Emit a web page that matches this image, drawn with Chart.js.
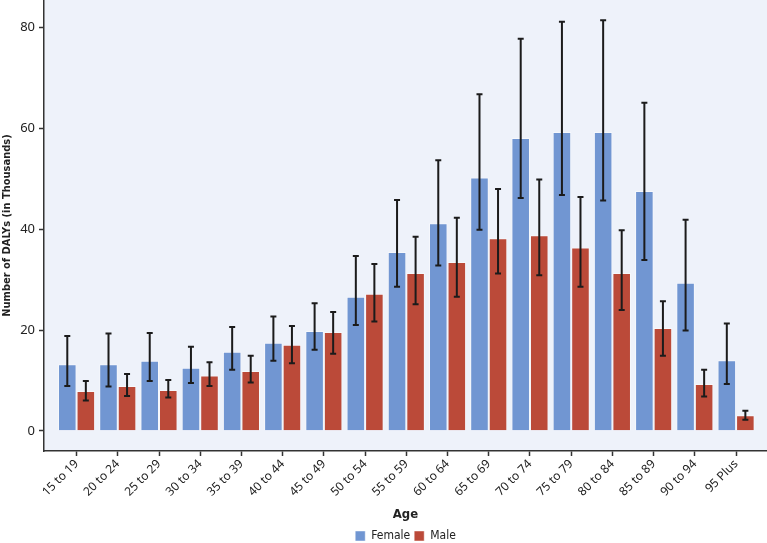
<!DOCTYPE html>
<html>
<head>
<meta charset="utf-8">
<script src="https://cdn.jsdelivr.net/npm/chart.js@4.4.0/dist/chart.umd.min.js"></script>
<style>
    html, body { margin: 0; padding: 0; background: #ffffff; }
    #wrap { width: 767px; height: 543px; }
</style>
</head>
<body>
<div id="wrap"><canvas id="dalysChart"></canvas></div>
<script>
// Age groups and DALYs (thousands), with lower / upper uncertainty bounds
var ageGroups = ['15 to 19', '20 to 24', '25 to 29', '30 to 34', '35 to 39', '40 to 44', '45 to 49', '50 to 54',
    '55 to 59', '60 to 64', '65 to 69', '70 to 74', '75 to 79', '80 to 84', '85 to 89', '90 to 94', '95 Plus'];

var femaleDalys = [13.2, 13.2, 13.9, 12.5, 15.7, 17.5, 19.8, 26.6, 35.5, 41.2, 50.3, 58.1, 59.3, 59.3, 47.6, 29.4, 14.0];
var femaleLower = [8.9, 8.8, 9.9, 9.5, 12.1, 13.9, 16.1, 21.0, 28.6, 32.8, 39.9, 46.2, 46.8, 45.7, 33.9, 19.9, 9.3];
var femaleUpper = [18.8, 19.3, 19.4, 16.7, 20.6, 22.7, 25.3, 34.7, 45.8, 53.7, 66.8, 77.8, 81.2, 81.5, 65.1, 41.9, 21.3];

var maleDalys = [7.9, 8.9, 8.1, 11.0, 11.9, 17.1, 19.6, 27.2, 31.3, 33.5, 38.2, 38.8, 36.4, 31.3, 20.4, 9.3, 3.1];
var maleLower = [6.0, 6.9, 6.6, 8.9, 9.6, 13.4, 15.3, 21.7, 25.1, 26.6, 31.2, 30.9, 28.6, 24.0, 14.9, 6.8, 2.2];
var maleUpper = [9.9, 11.3, 10.1, 13.6, 14.9, 20.8, 23.6, 33.1, 38.5, 42.3, 48.0, 49.9, 46.4, 39.8, 25.7, 12.1, 4.0];

var yTicks = [0, 20, 40, 60, 80];

var condensed = "'Liberation Sans Narrow', 'DejaVu Sans Condensed', 'Roboto', sans-serif";
var plain = "'Noto Sans', 'Open Sans', sans-serif";

function toPoints(values) {
    return values.map(function (v, i) { return { x: i, y: v }; });
}

// light blue plot panel behind the bars
var plotBackground = {
    id: 'plotBackground',
    beforeDraw: function (chart) {
        var a = chart.chartArea;
        var ctx = chart.ctx;
        ctx.save();
        ctx.fillStyle = '#eef2fa';
        ctx.fillRect(a.left, a.top, a.right - a.left, a.bottom - a.top);
        ctx.restore();
    }
};

// whiskers from the dataset's errLow / errHigh arrays
var errorBars = {
    id: 'errorBars',
    afterDatasetsDraw: function (chart) {
        var ctx = chart.ctx;
        var yScale = chart.scales.y;
        ctx.save();
        ctx.strokeStyle = '#1b1b1b';
        ctx.lineWidth = 2;
        chart.data.datasets.forEach(function (ds, d) {
            var meta = chart.getDatasetMeta(d);
            meta.data.forEach(function (bar, i) {
                var x = bar.x;
                var yLo = yScale.getPixelForValue(ds.errLow[i]);
                var yHi = yScale.getPixelForValue(ds.errHigh[i]);
                ctx.beginPath();
                ctx.moveTo(x, yLo);
                ctx.lineTo(x, yHi);
                ctx.moveTo(x - 3, yLo);
                ctx.lineTo(x + 3, yLo);
                ctx.moveTo(x - 3, yHi);
                ctx.lineTo(x + 3, yHi);
                ctx.stroke();
            });
        });
        ctx.restore();
    }
};

var ctx = document.getElementById('dalysChart').getContext('2d');
var dalysChart = new Chart(ctx, {
    type: 'bar',
    data: {
        datasets: [{
            label: 'Female',
            data: toPoints(femaleDalys),
            errLow: femaleLower,
            errHigh: femaleUpper,
            backgroundColor: '#7196d2',
            borderColor: 'rgba(255, 255, 255, 0.45)',
            borderWidth: 1
        }, {
            label: 'Male',
            data: toPoints(maleDalys),
            errLow: maleLower,
            errHigh: maleUpper,
            backgroundColor: '#bb4a39',
            borderColor: 'rgba(255, 255, 255, 0.45)',
            borderWidth: 1
        }]
    },
    options: {
        responsive: true,
        maintainAspectRatio: false,
        animation: false,
        layout: { padding: { top: 0, right: 0, left: 0, bottom: -9 } },
        datasets: {
            bar: { categoryPercentage: 0.9, barPercentage: 1.0 }
        },
        plugins: {
            tooltip: { enabled: false },
            legend: {
                position: 'bottom',
                fullSize: false,
                labels: {
                    boxWidth: 10,
                    boxHeight: 10,
                    padding: 4,
                    color: '#222',
                    font: { family: condensed, size: 12 }
                }
            }
        },
        scales: {
            x: {
                type: 'linear',
                offset: false,
                min: -0.79,
                max: 16.75,
                afterBuildTicks: function (axis) {
                    axis.ticks = ageGroups.map(function (g, i) { return { value: i }; });
                },
                afterFit: function (axis) { axis.height = 75; },
                ticks: {
                    autoSkip: false,
                    maxRotation: 45,
                    minRotation: 45,
                    padding: 1,
                    color: '#222',
                    font: { family: plain, size: 12 },
                    callback: function (value) { return ageGroups[value]; }
                },
                grid: { offset: false, drawOnChartArea: false, drawTicks: true, tickLength: 5, tickColor: '#333', tickWidth: 1.5 },
                border: { display: true, color: '#333', width: 1.5 },
                title: {
                    display: true,
                    text: 'Age',
                    color: '#222',
                    font: { family: condensed, size: 13, weight: 'bold' },
                    padding: { top: 2, bottom: 4 }
                }
            },
            y: {
                min: -4,
                max: 85.5,
                afterBuildTicks: function (axis) {
                    axis.ticks = yTicks.map(function (v) { return { value: v }; });
                },
                afterFit: function (axis) {
                    axis.width = 44;
                    axis.paddingTop = 0;
                    axis.paddingBottom = 0;
                },
                ticks: {
                    padding: 4,
                    color: '#222',
                    font: { family: plain, size: 13 }
                },
                grid: { drawOnChartArea: false, drawTicks: true, tickLength: 5, tickColor: '#333', tickWidth: 1.5 },
                border: { display: true, color: '#333', width: 1.5 },
                title: {
                    display: true,
                    text: 'Number of DALYs (in Thousands)',
                    color: '#222',
                    font: { family: condensed, size: 11, weight: 'bold' },
                    padding: { top: 1, bottom: 0 }
                }
            }
        }
    },
    plugins: [plotBackground, errorBars]
});
</script>
</body>
</html>
